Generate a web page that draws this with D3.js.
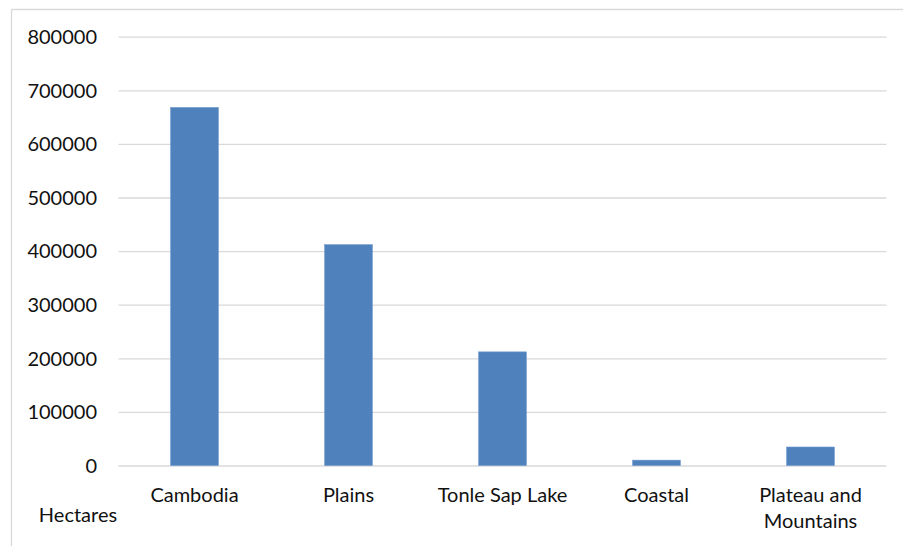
<!DOCTYPE html>
<html>
<head>
<meta charset="utf-8">
<script src="https://cdn.jsdelivr.net/npm/d3@7"></script>
<style>
  html, body { margin: 0; padding: 0; background: #fff; }
  svg { display: block; }
  text { font-family: Lato, "Open Sans", sans-serif; fill: #111; }
</style>
</head>
<body>
<svg id="chart" width="903" height="546"></svg>
<script>
const categories = [["Cambodia"], ["Plains"], ["Tonle Sap Lake"], ["Coastal"], ["Plateau and", "Mountains"]];
const values = [668000, 412000, 212000, 10000, 34500];
const yTicks = [0, 100000, 200000, 300000, 400000, 500000, 600000, 700000, 800000];
const yAxisTitle = "Hectares";

(function () {
const svg = d3.select("#chart");
const W = 903, H = 546;
const mLeft = 117.5, mRight = 887.5, mTop = 36.7, mBottom = 465.5;

// outer chart border (left and top visible)
svg.append("line").attr("x1", 11.5).attr("x2", W).attr("y1", 9.5).attr("y2", 9.5)
  .attr("stroke", "#d9d9d9").attr("stroke-width", 1.3);
svg.append("line").attr("x1", 11.5).attr("x2", 11.5).attr("y1", 9.5).attr("y2", H)
  .attr("stroke", "#d9d9d9").attr("stroke-width", 1.3);

const keys = categories.map(c => c.join(" "));
const x = d3.scaleBand().domain(keys).range([mLeft, mRight]).padding(0);
const y = d3.scaleLinear().domain([0, 800000]).range([mBottom, mTop]);

// gridlines
const yAxis = d3.axisLeft(y).tickValues(yTicks).tickSize(-(mRight - mLeft - 2)).tickPadding(20).tickFormat(d3.format("d"));
const gy = svg.append("g").attr("transform", `translate(${mLeft + 1},0)`).call(yAxis);
gy.select(".domain").remove();
gy.selectAll(".tick line").attr("stroke", "#d9d9d9").attr("stroke-width", 1.3);
gy.selectAll(".tick text").attr("font-size", 20).attr("fill", "#111")
  .attr("font-family", "Lato, 'Open Sans', sans-serif").attr("x", 97 - (mLeft + 1)).attr("dy", "0.34em");

// bars
const bw = x.bandwidth() * 0.31;
svg.append("g").selectAll("rect").data(values).join("rect")
  .attr("x", (d, i) => x(keys[i]) + x.bandwidth() / 2 - bw / 2)
  .attr("width", bw)
  .attr("y", d => y(d))
  .attr("height", d => y(0) - y(d))
  .attr("fill", "#4f81bd")
  .attr("stroke", "#6f98cc").attr("stroke-width", 0.6);

// category labels
const gx = svg.append("g");
categories.forEach((lines, i) => {
  const cx = x(keys[i]) + x.bandwidth() / 2;
  const t = gx.append("text").attr("text-anchor", "middle").attr("font-size", 20)
    .attr("x", cx).attr("y", 501.7);
  lines.forEach((ln, j) => {
    t.append("tspan").attr("x", cx).attr("dy", j === 0 ? 0 : 26.6).text(ln);
  });
});

// axis title
svg.append("text").attr("x", 78).attr("y", 521.7).attr("text-anchor", "middle")
  .attr("font-size", 20).text(yAxisTitle);
})();
</script>
</body>
</html>
